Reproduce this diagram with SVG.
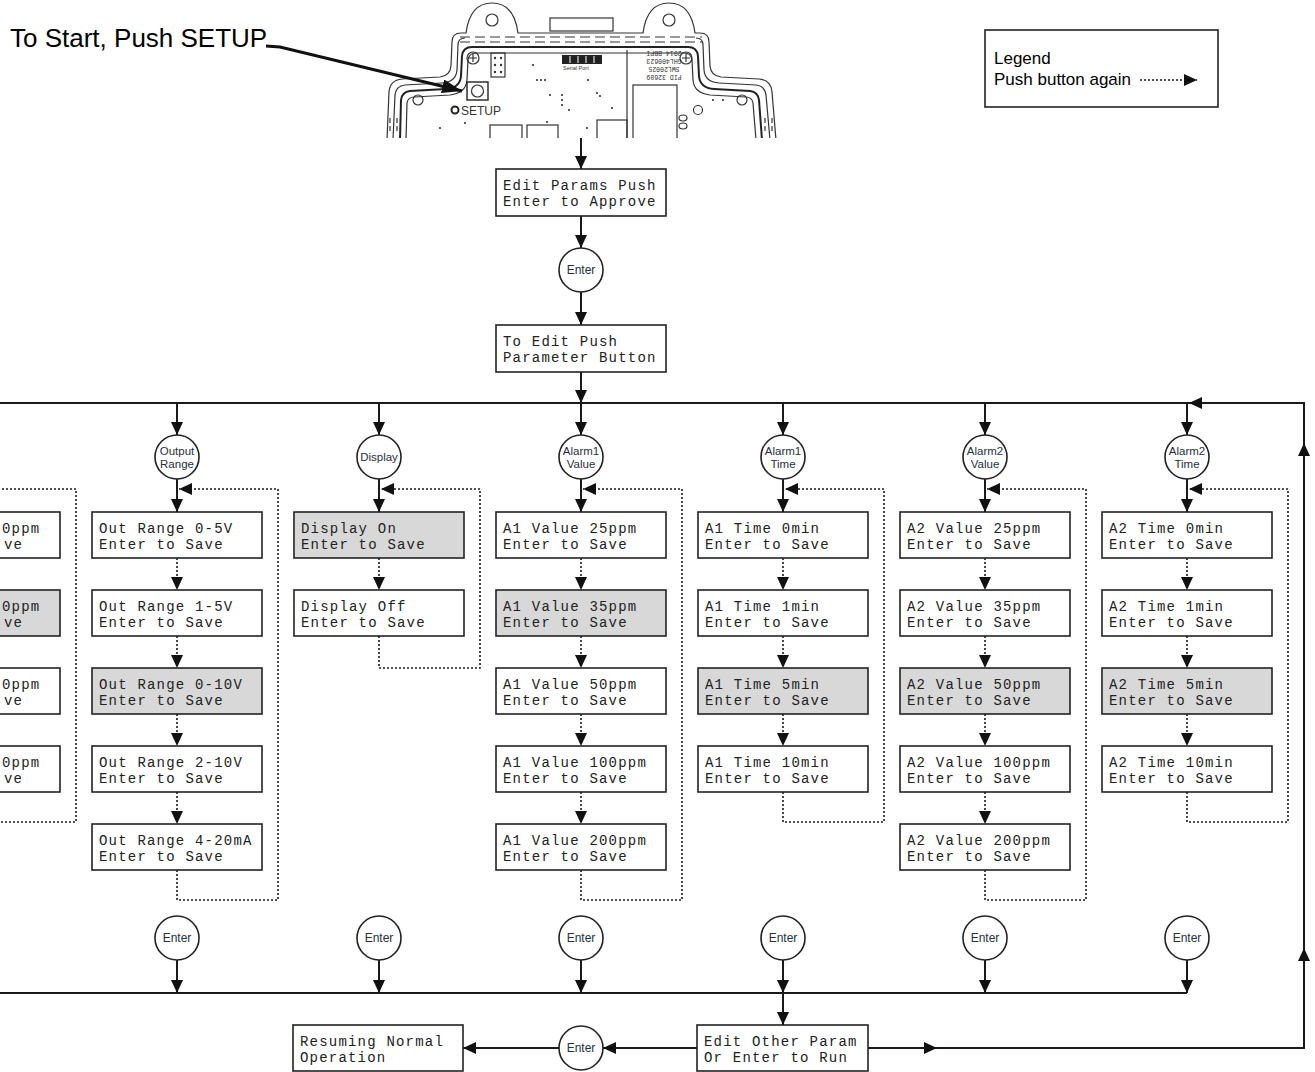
<svg xmlns="http://www.w3.org/2000/svg" width="1315" height="1072" viewBox="0 0 1315 1072">
<style>
.bx{fill:#fff;stroke:#222;stroke-width:1.6}
.sel{fill:#d8d8d8}
.lcd{font-family:"Liberation Mono","DejaVu Sans Mono",monospace;font-size:14px;letter-spacing:1.2px;fill:#222}
.cn{fill:#fff;stroke:#222;stroke-width:1.6}
.lbl{font-family:"Liberation Sans",Arial,sans-serif;font-size:11.5px;fill:#26303c;text-anchor:middle}
.ent{font-family:"Liberation Sans",Arial,sans-serif;font-size:12px;fill:#26303c;text-anchor:middle}
.s{fill:none;stroke:#1a1a1a;stroke-width:2;marker-end:url(#ah)}
.sn{fill:none;stroke:#1a1a1a;stroke-width:2}
.d{fill:none;stroke:#1a1a1a;stroke-width:1.6;stroke-dasharray:2 2;marker-end:url(#ah)}
.dv{fill:none;stroke:#333;stroke-width:1.2}
.dt{fill:#333}
.sans{font-family:"Liberation Sans",Arial,sans-serif;fill:#000}
</style>
<defs>
<marker id="ah" viewBox="0 0 13 12" refX="13" refY="6" markerWidth="13" markerHeight="12" markerUnits="userSpaceOnUse" orient="auto"><path d="M0,0 L13,6 L0,12 z" fill="#111"/></marker>
<marker id="ahL" viewBox="0 0 20 14" refX="20" refY="7" markerWidth="20" markerHeight="14" markerUnits="userSpaceOnUse" orient="auto"><path d="M0,0 L20,7 L0,14 z" fill="#111"/></marker>
<clipPath id="devclip"><rect x="380" y="0" width="400" height="138"/></clipPath>
</defs>
<rect width="1315" height="1072" fill="#fff"/>

<g id="title">
<text class="sans" x="10" y="47" font-size="26">To Start, Push SETUP</text>
</g>

<g id="device" clip-path="url(#devclip)">
<path class="dv" d="M387,140 L389,92 Q390,80 402,79 L440,77 Q450,76 451,66 L452,42 Q452,33 461,33 L466,33 Q470,3 492,3 Q514,3 518,33 L643,33 Q647,3 669,3 Q691,3 695,33 L700,33 Q709,33 709,42 L710,66 Q711,76 721,77 L759,79 Q771,80 772,92 L776,140"/>
<path class="dv" d="M393,140 L395,95 Q396,86 405,85 L442,83 Q456,82 457,70 L458,45 Q458,38 465,38"/>
<path class="dv" d="M770,140 L766,95 Q765,86 756,85 L719,83 Q705,82 704,70 L703,45 Q703,38 696,38"/>
<line class="dv" x1="460" y1="37" x2="702" y2="37" stroke-dasharray="10 5"/>
<line class="dv" x1="460" y1="42" x2="702" y2="42" stroke-dasharray="10 5"/>
<path fill="none" stroke="#222" stroke-width="2" d="M400,140 L401,100 Q402,92 410,91 L446,89 Q460,88 461,76 L462,56 Q463,47 472,47 L688,47 Q697,47 698,56 L699,76 Q700,88 714,89 L750,91 Q758,92 759,100 L762,140"/>
<path class="dv" d="M406,140 L407,103 Q408,97 414,97 L450,95 Q466,93 467,80 L468,60 Q469,53 476,53 L684,53 Q691,53 692,60 L693,80 Q694,93 710,95 L746,97 Q752,97 753,103 L756,140"/>
<rect x="550" y="18" width="63" height="13" class="dv" fill="#fff"/>
<circle class="dv" cx="492" cy="20" r="6" stroke-width="2"/>
<circle class="dv" cx="669" cy="20" r="6" stroke-width="2"/>
<line class="dv" x1="390" y1="118" x2="390" y2="134" stroke-dasharray="5 3"/>
<line class="dv" x1="397" y1="118" x2="397" y2="134" stroke-dasharray="5 3"/>
<line class="dv" x1="765" y1="118" x2="765" y2="134" stroke-dasharray="5 3"/>
<line class="dv" x1="772" y1="118" x2="772" y2="134" stroke-dasharray="5 3"/>
<circle class="dv" cx="473" cy="58" r="6"/>
<path class="dv" d="M469,58 L477,58 M473,54 L473,62"/>
<circle class="dv" cx="686" cy="58" r="6"/>
<path class="dv" d="M682,58 L690,58 M686,54 L686,62"/>
<circle class="dv" cx="418" cy="100" r="5"/>
<circle class="dv" cx="742" cy="100" r="5"/>
<rect class="dv" x="491" y="53" width="14" height="24"/>
<circle class="dt" cx="495" cy="58" r="1.2"/><circle class="dt" cx="501" cy="58" r="1.2"/>
<circle class="dt" cx="495" cy="65" r="1.2"/><circle class="dt" cx="501" cy="65" r="1.2"/>
<circle class="dt" cx="495" cy="72" r="1.2"/><circle class="dt" cx="501" cy="72" r="1.2"/>
<rect x="467" y="82" width="21" height="18" fill="none" stroke="#222" stroke-width="1.4"/>
<circle class="dv" cx="477.5" cy="91" r="6" stroke-width="1.5"/>
<circle cx="455" cy="110" r="3.5" fill="none" stroke="#222" stroke-width="2"/>
<text x="461" y="115" font-family="Liberation Sans,Arial,sans-serif" font-size="12" fill="#333">SETUP</text>
<rect x="562" y="55" width="40" height="9" fill="#222"/>
<path stroke="#fff" stroke-width="1" d="M570,56 L570,63 M578,56 L578,63 M586,56 L586,63 M594,56 L594,63"/>
<text x="563" y="70" font-family="Liberation Sans,Arial,sans-serif" font-size="5.5" fill="#333">Serial Port</text>
<line class="dv" x1="627" y1="50" x2="627" y2="140"/>
<rect class="dv" x="633" y="85" width="44" height="60"/>
<rect class="dv" x="490" y="125" width="32" height="20"/>
<rect class="dv" x="527" y="125" width="31" height="20"/>
<rect class="dv" x="597" y="120" width="30" height="25"/>
<circle class="dv" cx="698" cy="110" r="4.5" stroke-width="1.6"/>
<ellipse class="dv" cx="683" cy="118" rx="4" ry="3"/>
<ellipse class="dv" cx="683" cy="126" rx="4" ry="3"/>
<g class="dt">
<circle cx="533" cy="65" r="1.1"/><circle cx="537" cy="80" r="1.1"/><circle cx="541" cy="80" r="1.1"/><circle cx="545" cy="80" r="1.1"/>
<circle cx="588" cy="80" r="1.1"/><circle cx="562" cy="95" r="1.1"/><circle cx="562" cy="100" r="1.1"/><circle cx="562" cy="105" r="1.1"/>
<circle cx="597" cy="93" r="1.1"/><circle cx="600" cy="96" r="1.1"/><circle cx="569" cy="110" r="1.1"/><circle cx="550" cy="95" r="1.1"/>
<circle cx="440" cy="128" r="1.1"/><circle cx="465" cy="123" r="1.1"/><circle cx="547" cy="122" r="1.1"/><circle cx="587" cy="128" r="1.1"/>
<circle cx="713" cy="100" r="1.1"/><circle cx="723" cy="100" r="1.1"/><circle cx="612" cy="108" r="1.1"/>
</g>
<g font-family="Liberation Mono,DejaVu Sans Mono,monospace" font-size="6.5" fill="#333">
<text x="664" y="55" text-anchor="middle" transform="rotate(180 664 53)">2014 BBPI</text>
<text x="664" y="63" text-anchor="middle" transform="rotate(180 664 61)">GHL400623</text>
<text x="664" y="71" text-anchor="middle" transform="rotate(180 664 69)">SWL20025</text>
<text x="664" y="79" text-anchor="middle" transform="rotate(180 664 77)">PID 32689</text>
</g>
</g>

<g id="legend">
<rect x="985" y="30" width="233" height="77" fill="#fff" stroke="#222" stroke-width="1.6"/>
<text class="sans" x="994" y="64" font-size="17">Legend</text>
<text class="sans" x="994" y="85" font-size="17">Push button again</text>
<path class="d" d="M1140,80 L1197,80"/>
</g>

<g id="connectors">
<path class="s" d="M581,138 L581,169"/>
<path class="s" d="M581,216 L581,248"/>
<path class="s" d="M581,292 L581,325"/>
<path class="s" d="M581,372 L581,403"/>
<path class="sn" d="M0,403 L1304,403"/>
<path class="s" d="M177,403 L177,435"/>
<path class="s" d="M379,403 L379,435"/>
<path class="s" d="M581,403 L581,435"/>
<path class="s" d="M783,403 L783,435"/>
<path class="s" d="M985,403 L985,435"/>
<path class="s" d="M1187,403 L1187,435"/>
<path class="s" d="M177,479 L177,512"/>
<path class="s" d="M379,479 L379,512"/>
<path class="s" d="M581,479 L581,512"/>
<path class="s" d="M783,479 L783,512"/>
<path class="s" d="M985,479 L985,512"/>
<path class="s" d="M1187,479 L1187,512"/>
<path class="d" d="M-25,558 L-25,590"/><path class="d" d="M-25,636 L-25,668"/><path class="d" d="M-25,714 L-25,746"/>
<path class="d" d="M-25,792 L-25,822 L76,822 L76,489 L-23,489"/>
<path class="d" d="M177,558 L177,590"/><path class="d" d="M177,636 L177,668"/><path class="d" d="M177,714 L177,746"/><path class="d" d="M177,792 L177,824"/>
<path class="d" d="M177,870 L177,900 L278,900 L278,489 L179,489"/>
<path class="d" d="M379,558 L379,590"/>
<path class="d" d="M379,636 L379,668 L480,668 L480,489 L381,489"/>
<path class="d" d="M581,558 L581,590"/><path class="d" d="M581,636 L581,668"/><path class="d" d="M581,714 L581,746"/><path class="d" d="M581,792 L581,824"/>
<path class="d" d="M581,870 L581,900 L682,900 L682,489 L583,489"/>
<path class="d" d="M783,558 L783,590"/><path class="d" d="M783,636 L783,668"/><path class="d" d="M783,714 L783,746"/>
<path class="d" d="M783,792 L783,822 L884,822 L884,489 L785,489"/>
<path class="d" d="M985,558 L985,590"/><path class="d" d="M985,636 L985,668"/><path class="d" d="M985,714 L985,746"/><path class="d" d="M985,792 L985,824"/>
<path class="d" d="M985,870 L985,900 L1086,900 L1086,489 L987,489"/>
<path class="d" d="M1187,558 L1187,590"/><path class="d" d="M1187,636 L1187,668"/><path class="d" d="M1187,714 L1187,746"/>
<path class="d" d="M1187,792 L1187,822 L1288,822 L1288,489 L1189,489"/>
<path class="s" d="M177,960 L177,993"/>
<path class="s" d="M379,960 L379,993"/>
<path class="s" d="M581,960 L581,993"/>
<path class="s" d="M783,960 L783,993"/>
<path class="s" d="M985,960 L985,993"/>
<path class="s" d="M1187,960 L1187,993"/>
<path class="sn" d="M0,993 L1187,993"/>
<path class="s" d="M783,993 L783,1025"/>
<path class="s" d="M697,1048 L603,1048"/>
<path class="s" d="M559,1048 L463,1048"/>
<path class="s" d="M868,1048 L937,1048"/>
<path class="s" d="M937,1048 L1304,1048 L1304,948"/>
<path class="s" d="M1304,948 L1304,443"/>
<path class="s" d="M1304,443 L1304,403 L1189,403"/>
<path fill="none" stroke="#111" stroke-width="3" marker-end="url(#ahL)" d="M266,46 L280,47 L462,91"/>
</g>

<g id="box-edit-params"><rect class="bx" x="496" y="169" width="170" height="47"/><text class="lcd"><tspan x="503" y="190">Edit Params Push</tspan><tspan x="503" y="205.5">Enter to Approve</tspan></text></g>
<g id="enter-top"><circle class="cn" cx="581" cy="270" r="22"/><text class="ent" x="581" y="274">Enter</text></g>
<g id="box-to-edit"><rect class="bx" x="496" y="325" width="170" height="47"/><text class="lcd"><tspan x="503" y="346">To Edit Push</tspan><tspan x="503" y="361.5">Parameter Button</tspan></text></g>

<g id="node-output-range"><circle class="cn" cx="177" cy="457" r="22"/><text class="lbl"><tspan x="177" y="455">Output</tspan><tspan x="177" y="467.5">Range</tspan></text></g>
<g id="node-display"><circle class="cn" cx="379" cy="457" r="22"/><text class="lbl" x="379" y="461">Display</text></g>
<g id="node-alarm1-value"><circle class="cn" cx="581" cy="457" r="22"/><text class="lbl"><tspan x="581" y="455">Alarm1</tspan><tspan x="581" y="467.5">Value</tspan></text></g>
<g id="node-alarm1-time"><circle class="cn" cx="783" cy="457" r="22"/><text class="lbl"><tspan x="783" y="455">Alarm1</tspan><tspan x="783" y="467.5">Time</tspan></text></g>
<g id="node-alarm2-value"><circle class="cn" cx="985" cy="457" r="22"/><text class="lbl"><tspan x="985" y="455">Alarm2</tspan><tspan x="985" y="467.5">Value</tspan></text></g>
<g id="node-alarm2-time"><circle class="cn" cx="1187" cy="457" r="22"/><text class="lbl"><tspan x="1187" y="455">Alarm2</tspan><tspan x="1187" y="467.5">Time</tspan></text></g>

<g id="col-hidden">
<rect class="bx" x="-110" y="512" width="170" height="46"/><text class="lcd"><tspan x="2" y="533">0ppm</tspan><tspan x="4" y="548.5">ve</tspan></text>
<rect class="bx sel" x="-110" y="590" width="170" height="46"/><text class="lcd"><tspan x="2" y="611">0ppm</tspan><tspan x="4" y="626.5">ve</tspan></text>
<rect class="bx" x="-110" y="668" width="170" height="46"/><text class="lcd"><tspan x="2" y="689">0ppm</tspan><tspan x="4" y="704.5">ve</tspan></text>
<rect class="bx" x="-110" y="746" width="170" height="46"/><text class="lcd"><tspan x="2" y="767">0ppm</tspan><tspan x="4" y="782.5">ve</tspan></text>
</g>

<g id="col-output-range">
<g id="or-1"><rect class="bx" x="92" y="512" width="170" height="46"/><text class="lcd"><tspan x="99" y="533">Out Range 0-5V</tspan><tspan x="99" y="548.5">Enter to Save</tspan></text></g>
<g id="or-2"><rect class="bx" x="92" y="590" width="170" height="46"/><text class="lcd"><tspan x="99" y="611">Out Range 1-5V</tspan><tspan x="99" y="626.5">Enter to Save</tspan></text></g>
<g id="or-3"><rect class="bx sel" x="92" y="668" width="170" height="46"/><text class="lcd"><tspan x="99" y="689">Out Range 0-10V</tspan><tspan x="99" y="704.5">Enter to Save</tspan></text></g>
<g id="or-4"><rect class="bx" x="92" y="746" width="170" height="46"/><text class="lcd"><tspan x="99" y="767">Out Range 2-10V</tspan><tspan x="99" y="782.5">Enter to Save</tspan></text></g>
<g id="or-5"><rect class="bx" x="92" y="824" width="170" height="46"/><text class="lcd"><tspan x="99" y="845">Out Range 4-20mA</tspan><tspan x="99" y="860.5">Enter to Save</tspan></text></g>
</g>

<g id="col-display">
<g id="dp-1"><rect class="bx sel" x="294" y="512" width="170" height="46"/><text class="lcd"><tspan x="301" y="533">Display On</tspan><tspan x="301" y="548.5">Enter to Save</tspan></text></g>
<g id="dp-2"><rect class="bx" x="294" y="590" width="170" height="46"/><text class="lcd"><tspan x="301" y="611">Display Off</tspan><tspan x="301" y="626.5">Enter to Save</tspan></text></g>
</g>

<g id="col-alarm1-value">
<g id="a1v-1"><rect class="bx" x="496" y="512" width="170" height="46"/><text class="lcd"><tspan x="503" y="533">A1 Value 25ppm</tspan><tspan x="503" y="548.5">Enter to Save</tspan></text></g>
<g id="a1v-2"><rect class="bx sel" x="496" y="590" width="170" height="46"/><text class="lcd"><tspan x="503" y="611">A1 Value 35ppm</tspan><tspan x="503" y="626.5">Enter to Save</tspan></text></g>
<g id="a1v-3"><rect class="bx" x="496" y="668" width="170" height="46"/><text class="lcd"><tspan x="503" y="689">A1 Value 50ppm</tspan><tspan x="503" y="704.5">Enter to Save</tspan></text></g>
<g id="a1v-4"><rect class="bx" x="496" y="746" width="170" height="46"/><text class="lcd"><tspan x="503" y="767">A1 Value 100ppm</tspan><tspan x="503" y="782.5">Enter to Save</tspan></text></g>
<g id="a1v-5"><rect class="bx" x="496" y="824" width="170" height="46"/><text class="lcd"><tspan x="503" y="845">A1 Value 200ppm</tspan><tspan x="503" y="860.5">Enter to Save</tspan></text></g>
</g>

<g id="col-alarm1-time">
<g id="a1t-1"><rect class="bx" x="698" y="512" width="170" height="46"/><text class="lcd"><tspan x="705" y="533">A1 Time 0min</tspan><tspan x="705" y="548.5">Enter to Save</tspan></text></g>
<g id="a1t-2"><rect class="bx" x="698" y="590" width="170" height="46"/><text class="lcd"><tspan x="705" y="611">A1 Time 1min</tspan><tspan x="705" y="626.5">Enter to Save</tspan></text></g>
<g id="a1t-3"><rect class="bx sel" x="698" y="668" width="170" height="46"/><text class="lcd"><tspan x="705" y="689">A1 Time 5min</tspan><tspan x="705" y="704.5">Enter to Save</tspan></text></g>
<g id="a1t-4"><rect class="bx" x="698" y="746" width="170" height="46"/><text class="lcd"><tspan x="705" y="767">A1 Time 10min</tspan><tspan x="705" y="782.5">Enter to Save</tspan></text></g>
</g>

<g id="col-alarm2-value">
<g id="a2v-1"><rect class="bx" x="900" y="512" width="170" height="46"/><text class="lcd"><tspan x="907" y="533">A2 Value 25ppm</tspan><tspan x="907" y="548.5">Enter to Save</tspan></text></g>
<g id="a2v-2"><rect class="bx" x="900" y="590" width="170" height="46"/><text class="lcd"><tspan x="907" y="611">A2 Value 35ppm</tspan><tspan x="907" y="626.5">Enter to Save</tspan></text></g>
<g id="a2v-3"><rect class="bx sel" x="900" y="668" width="170" height="46"/><text class="lcd"><tspan x="907" y="689">A2 Value 50ppm</tspan><tspan x="907" y="704.5">Enter to Save</tspan></text></g>
<g id="a2v-4"><rect class="bx" x="900" y="746" width="170" height="46"/><text class="lcd"><tspan x="907" y="767">A2 Value 100ppm</tspan><tspan x="907" y="782.5">Enter to Save</tspan></text></g>
<g id="a2v-5"><rect class="bx" x="900" y="824" width="170" height="46"/><text class="lcd"><tspan x="907" y="845">A2 Value 200ppm</tspan><tspan x="907" y="860.5">Enter to Save</tspan></text></g>
</g>

<g id="col-alarm2-time">
<g id="a2t-1"><rect class="bx" x="1102" y="512" width="170" height="46"/><text class="lcd"><tspan x="1109" y="533">A2 Time 0min</tspan><tspan x="1109" y="548.5">Enter to Save</tspan></text></g>
<g id="a2t-2"><rect class="bx" x="1102" y="590" width="170" height="46"/><text class="lcd"><tspan x="1109" y="611">A2 Time 1min</tspan><tspan x="1109" y="626.5">Enter to Save</tspan></text></g>
<g id="a2t-3"><rect class="bx sel" x="1102" y="668" width="170" height="46"/><text class="lcd"><tspan x="1109" y="689">A2 Time 5min</tspan><tspan x="1109" y="704.5">Enter to Save</tspan></text></g>
<g id="a2t-4"><rect class="bx" x="1102" y="746" width="170" height="46"/><text class="lcd"><tspan x="1109" y="767">A2 Time 10min</tspan><tspan x="1109" y="782.5">Enter to Save</tspan></text></g>
</g>

<g id="enter-or"><circle class="cn" cx="177" cy="938" r="22"/><text class="ent" x="177" y="942">Enter</text></g>
<g id="enter-dp"><circle class="cn" cx="379" cy="938" r="22"/><text class="ent" x="379" y="942">Enter</text></g>
<g id="enter-a1v"><circle class="cn" cx="581" cy="938" r="22"/><text class="ent" x="581" y="942">Enter</text></g>
<g id="enter-a1t"><circle class="cn" cx="783" cy="938" r="22"/><text class="ent" x="783" y="942">Enter</text></g>
<g id="enter-a2v"><circle class="cn" cx="985" cy="938" r="22"/><text class="ent" x="985" y="942">Enter</text></g>
<g id="enter-a2t"><circle class="cn" cx="1187" cy="938" r="22"/><text class="ent" x="1187" y="942">Enter</text></g>

<g id="box-edit-other"><rect class="bx" x="697" y="1025" width="171" height="46"/><text class="lcd"><tspan x="704" y="1046">Edit Other Param</tspan><tspan x="704" y="1061.5">Or Enter to Run</tspan></text></g>
<g id="enter-bottom"><circle class="cn" cx="581" cy="1048" r="22"/><text class="ent" x="581" y="1052">Enter</text></g>
<g id="box-resuming"><rect class="bx" x="293" y="1025" width="170" height="46"/><text class="lcd"><tspan x="300" y="1046">Resuming Normal</tspan><tspan x="300" y="1061.5">Operation</tspan></text></g>
</svg>
